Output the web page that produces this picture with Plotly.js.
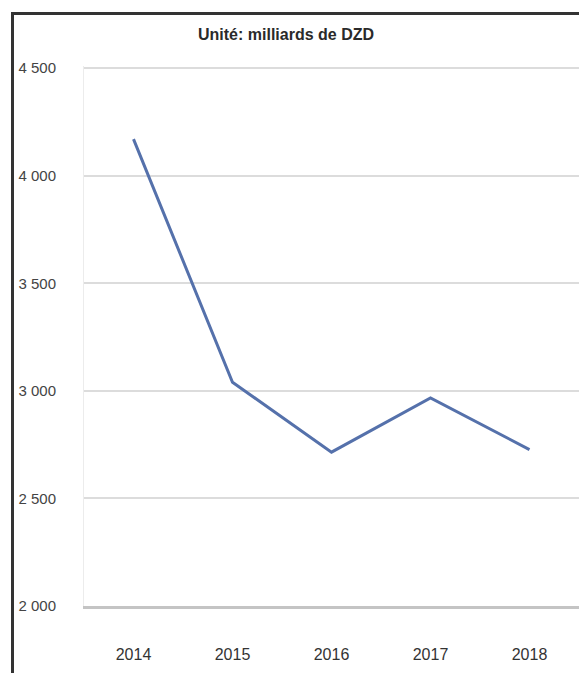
<!DOCTYPE html>
<html><head><meta charset="utf-8">
<script src="https://cdn.plot.ly/plotly-3.0.1.min.js"></script>
<style>
html,body{margin:0;padding:0;background:#fff;}
#wrap{position:relative;width:579px;height:673px;overflow:hidden;}
#chart{width:579px;height:673px;}
#bl{position:absolute;left:11px;top:12px;width:3px;height:661px;background:#333;}
#bt{position:absolute;left:11px;top:12px;width:568px;height:3px;background:#333;}
</style></head>
<body>
<div id="wrap"><div id="chart"></div><div id="bl"></div><div id="bt"></div></div>
<script>
var years = ['2014','2015','2016','2017','2018'];
var values = [4170, 3040, 2715, 2967, 2727];
var yTickVals = [2000, 2500, 3000, 3500, 4000, 4500];
var yTickText = ['2 000','2 500','3 000','3 500','4 000','4 500'];
var titleText = 'Unité: milliards de DZD';

var font = 'Liberation Sans, Arial, sans-serif';
Plotly.newPlot('chart', [{
  x: years, y: values, type: 'scatter', mode: 'lines',
  line: {color: '#5571ab', width: 3}
}], {
  width: 579, height: 673,
  margin: {l: 84, r: 0, t: 66, b: 67},
  paper_bgcolor: '#fff', plot_bgcolor: '#fff',
  showlegend: false,
  title: {text: '<b>' + titleText + '</b>', x: 0.494, xanchor: 'center', y: 0.949, yanchor: 'middle',
          font: {family: font, size: 16, color: '#2a2a2a'}},
  xaxis: {type: 'category', range: [-0.5, 4.5], showgrid: false, zeroline: false,
          showline: true, linecolor: '#c4c4c4', linewidth: 2.5,
          ticks: '', tickfont: {family: font, size: 16, color: '#333'}, ticklabelstandoff: 32},
  yaxis: {range: [2000, 4510], tickvals: yTickVals, ticktext: yTickText,
          showgrid: true, gridcolor: '#dcdcdc', gridwidth: 2, zeroline: false,
          showline: true, linecolor: '#ececec', linewidth: 1,
          ticks: '', tickfont: {family: font, size: 15, color: '#444'},
          ticklabelstandoff: 24}
}, {staticPlot: true});
</script>
</body></html>
